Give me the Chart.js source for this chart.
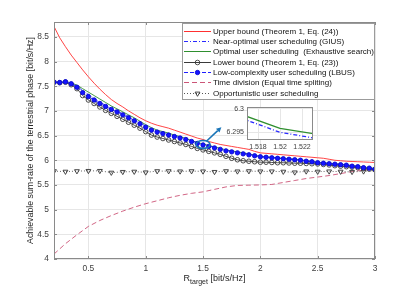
<!DOCTYPE html>
<html><head><meta charset="utf-8">
<script src="https://cdn.jsdelivr.net/npm/chart.js@4/dist/chart.umd.min.js"></script>
<style>
html,body{margin:0;padding:0;background:#fff;}
#wrap{position:relative;width:415px;height:291px;}
#main{position:absolute;left:0;top:0;}
#inset{position:absolute;left:215px;top:100px;}
</style></head><body>
<div id="wrap"><canvas id="main" width="415" height="291"></canvas><canvas id="inset" width="105" height="56"></canvas></div>
<script>
// ---------- data ----------
const rTarget = [0.2,0.25,0.3,0.35,0.4,0.45,0.5,0.55,0.6,0.65,0.7,0.75,0.8,0.85,0.9,0.95,1.0,1.05,1.1,1.15,1.2,1.25,1.3,1.35,1.4,1.45,1.5,1.55,1.6,1.65,1.7,1.75,1.8,1.85,1.9,1.95,2.0,2.05,2.1,2.15,2.2,2.25,2.3,2.35,2.4,2.45,2.5,2.55,2.6,2.65,2.7,2.75,2.8,2.85,2.9,2.95,3.0];
const upperBound = [8.71,8.48,8.30,8.13,7.98,7.83,7.69,7.56,7.44,7.33,7.23,7.15,7.08,7.00,6.93,6.86,6.80,6.75,6.71,6.68,6.65,6.61,6.57,6.53,6.49,6.45,6.42,6.38,6.35,6.32,6.30,6.28,6.26,6.24,6.22,6.18,6.15,6.14,6.13,6.12,6.11,6.10,6.09,6.08,6.07,6.06,6.05,6.04,6.02,6.00,5.99,5.98,5.975,5.97,5.965,5.96,5.955];
const giusRate = [7.58,7.575,7.59,7.56,7.50,7.41,7.33,7.25,7.18,7.11,7.05,7.00,6.94,6.88,6.82,6.76,6.69,6.63,6.59,6.56,6.53,6.49,6.46,6.43,6.39,6.35,6.32,6.29,6.26,6.23,6.20,6.18,6.16,6.14,6.12,6.095,6.075,6.065,6.055,6.045,6.035,6.025,6.015,6.005,5.985,5.975,5.955,5.945,5.935,5.925,5.915,5.905,5.885,5.875,5.855,5.845,5.825];
const optimalRate = [7.58,7.575,7.59,7.57,7.52,7.45,7.38,7.31,7.24,7.17,7.10,7.04,6.98,6.92,6.86,6.79,6.72,6.66,6.61,6.58,6.55,6.51,6.48,6.44,6.40,6.36,6.33,6.30,6.27,6.24,6.21,6.19,6.17,6.15,6.13,6.10,6.08,6.07,6.06,6.05,6.04,6.03,6.02,6.01,5.99,5.98,5.96,5.95,5.94,5.93,5.92,5.91,5.89,5.88,5.86,5.85,5.83];
const lowerBound = [7.58,7.57,7.58,7.53,7.45,7.31,7.22,7.15,7.08,7.01,6.95,6.89,6.83,6.77,6.71,6.65,6.58,6.51,6.47,6.44,6.41,6.38,6.35,6.32,6.28,6.24,6.21,6.18,6.15,6.12,6.08,6.04,6.01,5.99,5.98,5.97,5.96,5.96,5.955,5.95,5.95,5.945,5.94,5.94,5.935,5.93,5.925,5.915,5.905,5.89,5.88,5.87,5.86,5.85,5.835,5.82,5.81];
const lbusRate = [7.58,7.575,7.59,7.55,7.48,7.37,7.29,7.22,7.15,7.09,7.03,6.98,6.92,6.86,6.80,6.74,6.67,6.61,6.57,6.54,6.51,6.48,6.45,6.42,6.38,6.34,6.31,6.28,6.25,6.22,6.19,6.17,6.15,6.13,6.11,6.09,6.07,6.06,6.05,6.04,6.03,6.02,6.01,6.00,5.98,5.97,5.95,5.94,5.93,5.92,5.91,5.90,5.88,5.87,5.85,5.84,5.82];
const rTargetCoarse = [0.2,0.3,0.4,0.5,0.6,0.7,0.8,0.9,1.0,1.1,1.2,1.3,1.4,1.5,1.6,1.7,1.8,1.9,2.0,2.1,2.2,2.3,2.4,2.5,2.6,2.7,2.8,2.9,3.0];
const timeDivision = [4.10,4.31,4.49,4.66,4.78,4.88,4.97,5.05,5.12,5.18,5.24,5.29,5.33,5.36,5.41,5.46,5.49,5.495,5.50,5.51,5.55,5.59,5.63,5.66,5.69,5.73,5.77,5.80,5.82];
const opportunistic = [5.78,5.77,5.78,5.785,5.785,5.75,5.765,5.77,5.755,5.78,5.78,5.775,5.78,5.775,5.765,5.78,5.775,5.78,5.775,5.775,5.77,5.755,5.775,5.77,5.775,5.77,5.765,5.775,5.79];
const xTicks = [0.5,1,1.5,2,2.5,3];
const yTicks = [4,4.5,5,5.5,6,6.5,7,7.5,8,8.5];
const insetX = [1.515,1.52,1.525];
const insetOptimal = [6.29997,6.2958,6.29387];
const insetGius = [6.29921,6.29494,6.29297];
const insetXTicks = [1.518,1.52,1.522];
const insetYTicks = [6.295,6.3];
const legendLabels = ['Upper bound (Theorem 1, Eq. (24))','Near-optimal user scheduling (GIUS)','Optimal user scheduling  (Exhaustive search)','Lower bound (Theorem 1, Eq. (23))','Low-complexity user scheduling (LBUS)','Time division (Equal time spliting)','Opportunistic user scheduling'];
const yTitle = 'Achievable sum-rate of the terrestrial phase [bit/s/Hz]';
const zoomSpot = {x:1.5, y:6.32};
const arrowTip = {x:1.66, y:6.67};

// ---------- styles ----------
const FONT = '"Liberation Sans", Arial, Helvetica, sans-serif';
const S = {
  upper:{color:'#ff3030',width:0.9,dash:[]},
  gius:{color:'#2a2aff',width:0.9,dash:[4,2,1,2]},
  opt:{color:'#2f8f2f',width:0.9,dash:[]},
  lower:{color:'#3a3a3a',width:0.9,dash:[],marker:'circle',mfill:'rgba(0,0,0,0)',mstroke:'#3a3a3a',r:2.3},
  lbus:{color:'#1e1eff',width:0.9,dash:[4,2],marker:'circle',mfill:'#1414ff',mstroke:'#0a0ad0',r:2.2},
  tdiv:{color:'#cc5577',width:0.9,dash:[5,3]},
  opp:{color:'#555555',width:0.9,dash:[1,2],marker:'triangle',mfill:'rgba(0,0,0,0)',mstroke:'#333333',r:2.8}
};
const legendStyles = [S.upper,S.gius,S.opt,S.lower,S.lbus,S.tdiv,S.opp];
const pts = (xs,ys)=>xs.map((x,i)=>({x:x,y:ys[i]}));

function ds(label,xs,ys,st,order){
  return {label:label,data:pts(xs,ys),borderColor:st.color,borderWidth:st.width,borderDash:st.dash,
    pointStyle:st.marker||'circle',pointRadius:st.marker?st.r:0,pointRotation:st.marker==='triangle'?180:0,
    pointBackgroundColor:st.mfill||st.color,pointBorderColor:st.mstroke||st.color,pointBorderWidth:0.9,
    fill:false,tension:0,order:order};
}

function drawMarker(ctx,st,x,y){
  if(!st.marker) return;
  ctx.save();
  ctx.setLineDash([]);
  ctx.lineWidth=0.9; ctx.strokeStyle=st.mstroke; ctx.fillStyle=st.mfill;
  ctx.beginPath();
  if(st.marker==='circle'){ctx.arc(x,y,st.r,0,Math.PI*2);}
  else{const r=st.r; ctx.moveTo(x-r*0.866,y-r*0.5); ctx.lineTo(x+r*0.866,y-r*0.5); ctx.lineTo(x,y+r); ctx.closePath();}
  ctx.fill(); ctx.stroke(); ctx.restore();
}

const mainPlugin = {
  id:'mainDecor',
  afterDatasetsDraw(chart){
    const ctx=chart.ctx, a=chart.chartArea, xs=chart.scales.x, ys=chart.scales.y;
    ctx.save();
    ctx.strokeStyle='#8a8a8a'; ctx.lineWidth=1; ctx.setLineDash([]);
    ctx.strokeRect(Math.round(a.left)+0.5,Math.round(a.top)+0.5,Math.round(a.right-a.left)-1,Math.round(a.bottom-a.top)-1);
    ctx.beginPath();
    xTicks.forEach(v=>{const px=Math.round(xs.getPixelForValue(v))+0.5; ctx.moveTo(px,a.bottom); ctx.lineTo(px,a.bottom-3); ctx.moveTo(px,a.top); ctx.lineTo(px,a.top+3);});
    yTicks.forEach(v=>{const py=Math.round(ys.getPixelForValue(v))+0.5; ctx.moveTo(a.left,py); ctx.lineTo(a.left+3,py); ctx.moveTo(a.right,py); ctx.lineTo(a.right-3,py);});
    ctx.stroke();
    // ellipse + arrow
    const cx=xs.getPixelForValue(zoomSpot.x), cy=ys.getPixelForValue(zoomSpot.y);
    const rx=7, ry=4;
    ctx.strokeStyle='#1a75b8'; ctx.fillStyle='#1a75b8'; ctx.lineWidth=1.6;
    ctx.beginPath(); ctx.ellipse(cx,cy,rx,ry,0,0,Math.PI*2); ctx.stroke();
    const tx=xs.getPixelForValue(arrowTip.x), ty=ys.getPixelForValue(arrowTip.y);
    const ang=Math.atan2(ty-cy,tx-cx);
    const t=1/Math.sqrt(Math.pow(Math.cos(ang)/rx,2)+Math.pow(Math.sin(ang)/ry,2));
    const sx=cx+t*Math.cos(ang), sy=cy+t*Math.sin(ang);
    const hl=5, hw=2.6;
    const bx=tx-hl*Math.cos(ang), by=ty-hl*Math.sin(ang);
    ctx.beginPath(); ctx.moveTo(sx,sy); ctx.lineTo(bx,by); ctx.stroke();
    ctx.beginPath(); ctx.moveTo(tx,ty);
    ctx.lineTo(bx+hw*Math.sin(ang),by-hw*Math.cos(ang));
    ctx.lineTo(bx-hw*Math.sin(ang),by+hw*Math.cos(ang)); ctx.closePath(); ctx.fill();
    // legend
    const lx=182.5, ly=23.5, lw=192, lh=76;
    ctx.fillStyle='#ffffff'; ctx.fillRect(lx,ly,lw,lh);
    ctx.strokeStyle='#9b9b9b'; ctx.lineWidth=1; ctx.strokeRect(lx,ly,lw,lh);
    ctx.font='8px '+FONT; ctx.textBaseline='middle'; ctx.textAlign='left';
    for(let i=0;i<legendLabels.length;i++){
      const st=legendStyles[i]; const y=Math.round(30.7+i*10.35)+0.5;
      ctx.save();
      ctx.strokeStyle=st.color; ctx.lineWidth=1; ctx.setLineDash(st.dash);
      ctx.beginPath(); ctx.moveTo(184,y); ctx.lineTo(211,y); ctx.stroke();
      ctx.restore();
      drawMarker(ctx,st,197.5,y);
      ctx.fillStyle='#111111'; ctx.fillText(legendLabels[i],213,y+0.5);
    }
    // axis titles
    ctx.fillStyle='#262626';
    ctx.save(); ctx.translate(31,(a.top+a.bottom)/2); ctx.rotate(-Math.PI/2);
    ctx.font='8.8px '+FONT; ctx.textAlign='center'; ctx.textBaseline='middle'; ctx.fillText(yTitle,0,0); ctx.restore();
    ctx.textAlign='left'; ctx.textBaseline='alphabetic';
    const f1='9px '+FONT, f2='7px '+FONT;
    ctx.font=f1; const w1=ctx.measureText('R').width, w3=ctx.measureText(' [bit/s/Hz]').width;
    ctx.font=f2; const w2=ctx.measureText('target').width;
    let x0=(a.left+a.right)/2-(w1+w2+w3)/2; const yb=281;
    ctx.font=f1; ctx.fillText('R',x0,yb);
    ctx.font=f2; ctx.fillText('target',x0+w1,yb+3);
    ctx.font=f1; ctx.fillText(' [bit/s/Hz]',x0+w1+w2,yb);
    ctx.restore();
  }
};

new Chart(document.getElementById('main'),{
  type:'line',
  data:{datasets:[
    ds(legendLabels[0],rTarget,upperBound,S.upper,4),
    ds(legendLabels[1],rTarget,giusRate,S.gius,2),
    ds(legendLabels[2],rTarget,optimalRate,S.opt,3),
    ds(legendLabels[3],rTarget,lowerBound,S.lower,1),
    ds(legendLabels[4],rTarget,lbusRate,S.lbus,0),
    ds(legendLabels[5],rTargetCoarse,timeDivision,S.tdiv,6),
    ds(legendLabels[6],rTargetCoarse,opportunistic,S.opp,5)
  ]},
  options:{
    responsive:false, animation:false, devicePixelRatio:1,
    layout:{padding:{left:0,right:40,top:22,bottom:0}},
    plugins:{legend:{display:false},tooltip:{enabled:false}},
    scales:{
      x:{type:'linear',min:0.2,max:3,
        afterBuildTicks:s=>{s.ticks=xTicks.map(v=>({value:v}));},
        afterFit:s=>{s.height=32;},
        grid:{color:'#e6e6e6',drawTicks:false},border:{display:false},
        ticks:{padding:5,color:'#404040',maxRotation:0,font:{family:FONT,size:8.4},callback:v=>String(v)}},
      y:{type:'linear',min:4,max:8.8,
        afterBuildTicks:s=>{s.ticks=yTicks.map(v=>({value:v}));},
        afterFit:s=>{s.width=54;},
        grid:{color:'#e6e6e6',drawTicks:false},border:{display:false},
        ticks:{padding:5,color:'#404040',font:{family:FONT,size:8.4},callback:v=>String(v)}}
    }
  },
  plugins:[mainPlugin]
});

const insetPlugin = {
  id:'insetDecor',
  beforeDraw(chart){const a=chart.chartArea,ctx=chart.ctx; ctx.save(); ctx.fillStyle='#fff'; ctx.fillRect(a.left,a.top,a.right-a.left,a.bottom-a.top); ctx.restore();},
  afterDraw(chart){const a=chart.chartArea,ctx=chart.ctx; ctx.save(); ctx.strokeStyle='#8a8a8a'; ctx.lineWidth=1; ctx.setLineDash([]);
    ctx.strokeRect(Math.round(a.left)+0.5,Math.round(a.top)+0.5,Math.round(a.right-a.left)-1,Math.round(a.bottom-a.top)-1); ctx.restore();}
};
new Chart(document.getElementById('inset'),{
  type:'line',
  data:{datasets:[
    {data:pts(insetX,insetGius),borderColor:S.gius.color,borderWidth:1.3,borderDash:[4,2,1,2],pointRadius:0,fill:false,tension:0},
    {data:pts(insetX,insetOptimal),borderColor:S.opt.color,borderWidth:1.3,pointRadius:0,fill:false,tension:0}
  ]},
  options:{
    responsive:false, animation:false, devicePixelRatio:1,
    layout:{padding:{left:0,right:7,top:5,bottom:0}},
    plugins:{legend:{display:false},tooltip:{enabled:false}},
    scales:{
      x:{type:'linear',min:1.517,max:1.523,
        afterBuildTicks:s=>{s.ticks=insetXTicks.map(v=>({value:v}));},
        afterFit:s=>{s.height=16;},
        grid:{color:'#e6e6e6',drawTicks:false},border:{display:false},
        ticks:{padding:3,color:'#404040',maxRotation:0,font:{family:FONT,size:7},callback:v=>String(+v.toFixed(4))}},
      y:{type:'linear',min:6.2933,max:6.3003,
        afterBuildTicks:s=>{s.ticks=insetYTicks.map(v=>({value:v}));},
        afterFit:s=>{s.width=32;},
        grid:{color:'#e6e6e6',drawTicks:false},border:{display:false},
        ticks:{padding:3,color:'#404040',font:{family:FONT,size:7},callback:v=>String(+v.toFixed(4))}}
    }
  },
  plugins:[insetPlugin]
});
</script>
</body></html>
